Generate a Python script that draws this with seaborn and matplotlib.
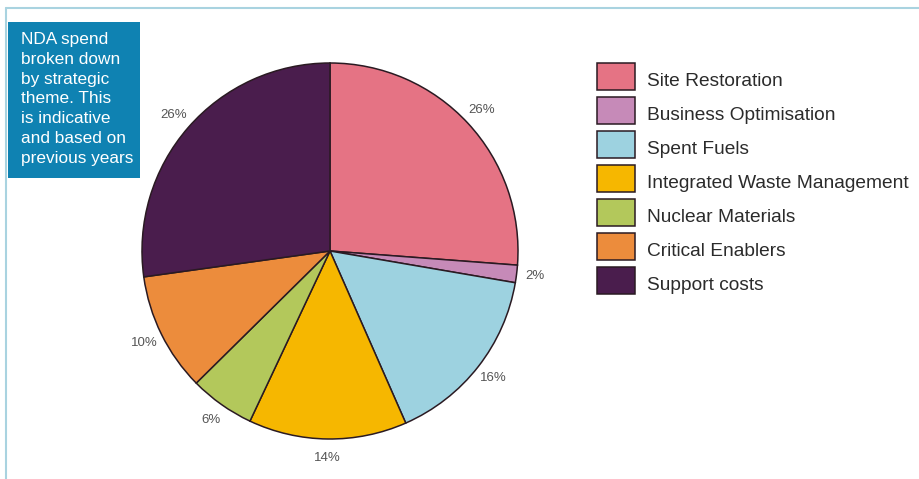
import matplotlib
matplotlib.use("Agg")
import matplotlib.pyplot as plt
from matplotlib import font_manager
from matplotlib.patches import Rectangle
from matplotlib.lines import Line2D
from matplotlib.transforms import ScaledTranslation
import seaborn as sns

categories = ["Site Restoration", "Business Optimisation", "Spent Fuels",
              "Integrated Waste Management", "Nuclear Materials",
              "Critical Enablers", "Support costs"]
shares = [26.2, 1.5, 15.7, 13.6, 5.6, 10.2, 27.2]
pct_labels = ["26%", "2%", "16%", "14%", "6%", "10%", "26%"]
colors = ["#E57384", "#C68AB8", "#9DD2E0", "#F6B700", "#B3C85B", "#EC8C3C", "#4A1D4D"]
note = "NDA spend\nbroken down\nby strategic\ntheme. This\nis indicative\nand based on\nprevious years"

font_manager.fontManager.ttflist = [f for f in font_manager.fontManager.ttflist
                                    if "Narrow" not in f.fname]

sns.set_theme(style="white")
plt.rcParams["font.family"] = ["Liberation Sans", "DejaVu Sans"]
palette = sns.color_palette(colors)

W, H = 920, 479
fig = plt.figure(figsize=(W / 100, H / 100), dpi=100)
fig.patch.set_facecolor("white")
ax = fig.add_axes([0, 0, 1, 1])

cx, cy, r = 330, H - 251, 188
wedges, texts = ax.pie(shares, colors=palette, labels=pct_labels, startangle=90,
                       counterclock=False, center=(cx, cy), radius=r,
                       labeldistance=1.1,
                       wedgeprops=dict(edgecolor="#2a1a22", linewidth=1.1),
                       textprops=dict(fontsize=9.5, color="#555555"),
                       frame=True)
for t in texts:
    t.set_ha("center")
    t.set_va("center")
ax.set_xlim(0, W)
ax.set_ylim(0, H)
ax.set_aspect("auto")
ax.axis("off")

leg = ax.legend(wedges, categories, loc="upper left",
                bbox_to_anchor=(597 / W, 1 - 63 / H), bbox_transform=fig.transFigure,
                frameon=False, fontsize=13.8, handlelength=1.98, handleheight=1.79,
                labelspacing=0.365, handletextpad=0.65, borderpad=0, borderaxespad=0)
shift = ScaledTranslation(0, -3.5 / 100, fig.dpi_scale_trans)
for t in leg.get_texts():
    t.set_color("#2b2b2b")
    t.set_transform(t.get_transform() + shift)

# frame lines
fig.add_artist(Line2D([6 / W, 1], [1 - 8 / H, 1 - 8 / H], color="#A9D3E0", lw=1.5,
                      transform=fig.transFigure))
fig.add_artist(Line2D([6 / W, 6 / W], [0, 1 - 8 / H], color="#A9D3E0", lw=1.5,
                      transform=fig.transFigure))

# note box
fig.add_artist(Rectangle((8 / W, 1 - 178 / H), 132 / W, 156 / H, facecolor="#0F82B2",
                         edgecolor="none", transform=fig.transFigure))
fig.text(21 / W, 1 - 32 / H, note, color="white", fontsize=12.4, va="top", ha="left",
         linespacing=1.40)

fig.savefig("out.png", dpi=100)
